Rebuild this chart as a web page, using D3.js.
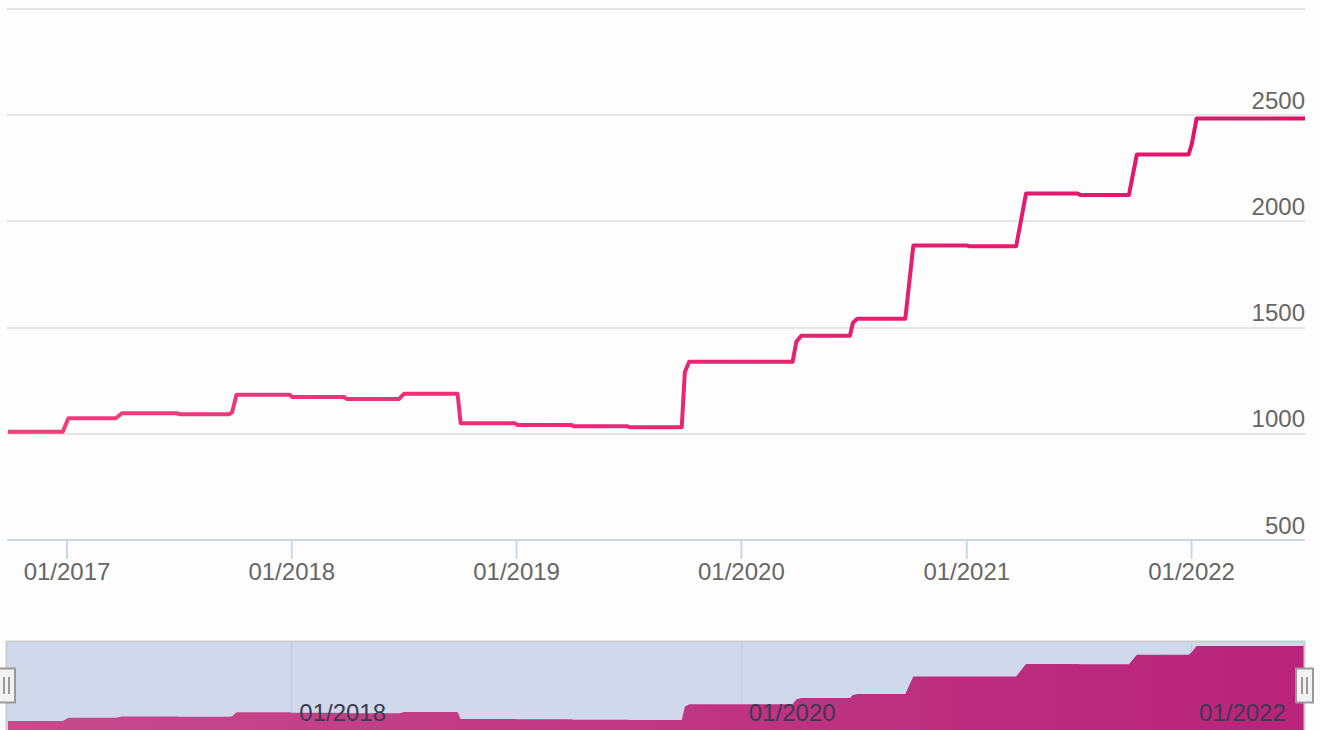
<!DOCTYPE html>
<html>
<head>
<meta charset="utf-8">
<title>Stepped line with navigator</title>
<script src="https://d3js.org/d3.v7.min.js"></script>
<style>
  body { margin: 0; background: #fdfdfd; }
  svg { display: block; font-family: "Liberation Sans", Arial, sans-serif; }
</style>
</head>
<body>
<div id="chart"></div>
<script>
// data (date, value)
var dates = ["2016-09-28","2016-12-26","2017-01-04","2017-03-22","2017-04-01","2017-06-28","2017-07-05",
  "2017-09-22","2017-09-27","2017-10-04","2017-12-29","2018-01-03","2018-03-28","2018-04-01","2018-06-25",
  "2018-07-03","2018-09-28","2018-10-03","2018-12-30","2019-01-03","2019-04-01","2019-04-04","2019-07-01",
  "2019-07-04","2019-09-27","2019-10-02","2019-10-09","2020-03-25","2020-03-31","2020-04-08","2020-06-26",
  "2020-07-01","2020-07-08","2020-09-24","2020-10-07","2021-01-03","2021-01-06","2021-03-23","2021-04-08",
  "2021-07-01","2021-07-05","2021-09-22","2021-10-05","2021-12-28","2022-01-02","2022-01-10","2022-07-05"];
var values = [1010,1010,1073,1073,1097,1097,1092,
  1092,1102,1184,1184,1173,1173,1164,1164,
  1188,1188,1050,1050,1042,1042,1036,1036,
  1031,1031,1290,1339,1339,1433,1462,1462,
  1523,1542,1542,1886,1886,1883,1883,2131,
  2131,2124,2124,2315,2315,2362,2485,2485];
var yTicks = [500, 1000, 1500, 2000, 2500, 3000];
var yLabels = [500, 1000, 1500, 2000, 2500];
var xTickDates = ["2017-01-01","2018-01-01","2019-01-01","2020-01-01","2021-01-01","2022-01-01"];
var navTickDates = ["2018-01-01","2020-01-01","2022-01-01"];

var W = 1320, H = 730;
var parse = d3.utcParse("%Y-%m-%d");
var fmt = d3.utcFormat("%m/%Y");
var points = dates.map(function (d, i) { return { date: parse(d), value: values[i] }; });

var svg = d3.select("#chart").append("svg").attr("width", W).attr("height", H);

// scales
var x = d3.scaleUtc()
  .domain([parse("2016-09-28"), parse("2022-07-05")])
  .range([8, 1305]);
var y = d3.scaleLinear().domain([500, 3000]).range([540, 9]);
var navY = d3.scaleLinear().domain(d3.extent(values)).range([721, 646]);

var defs = svg.append("defs");
var lg = defs.append("linearGradient").attr("id", "lineGrad")
  .attr("gradientUnits", "userSpaceOnUse").attr("x1", 8).attr("x2", 1305).attr("y1", 0).attr("y2", 0);
lg.append("stop").attr("offset", "0%").attr("stop-color", "#f03f7d");
lg.append("stop").attr("offset", "100%").attr("stop-color", "#e0106a");
var ag = defs.append("linearGradient").attr("id", "areaGrad")
  .attr("gradientUnits", "userSpaceOnUse").attr("x1", 8).attr("x2", 1305).attr("y1", 0).attr("y2", 0);
ag.append("stop").attr("offset", "0%").attr("stop-color", "#c64a8c");
ag.append("stop").attr("offset", "100%").attr("stop-color", "#b9237a");

// gridlines
svg.append("g").selectAll("line").data(yTicks.slice(1)).enter().append("line")
  .attr("x1", 7).attr("x2", 1305)
  .attr("y1", function (d) { return Math.round(y(d)); })
  .attr("y2", function (d) { return Math.round(y(d)); })
  .attr("stroke", "#e6e6e6").attr("stroke-width", 2);

// y labels (right side, above gridline)
svg.append("g").selectAll("text").data(yLabels).enter().append("text")
  .attr("x", 1305).attr("y", function (d) { return y(d) - 6.5; })
  .attr("text-anchor", "end").attr("font-size", 24).attr("fill", "#666")
  .text(function (d) { return d; });

// x axis
var xAxis = d3.axisBottom(x)
  .tickValues(xTickDates.map(parse))
  .tickFormat(fmt)
  .tickSize(19).tickPadding(4);
var gx = svg.append("g").attr("transform", "translate(0,540)").call(xAxis);
gx.select(".domain").remove();
gx.append("line").attr("x1", 7).attr("x2", 1305).attr("y1", 0).attr("y2", 0)
  .attr("stroke", "#ccd6eb").attr("stroke-width", 2);
gx.selectAll(".tick line").attr("stroke", "#ccd6eb").attr("stroke-width", 2);
gx.selectAll(".tick text").attr("font-size", 24).attr("fill", "#666")
  .attr("font-family", "Liberation Sans, Arial, sans-serif");

// main line
var line = d3.line()
  .x(function (d) { return x(d.date); })
  .y(function (d) { return y(d.value); });
svg.append("path").datum(points)
  .attr("d", line)
  .attr("fill", "none")
  .attr("stroke", "url(#lineGrad)")
  .attr("stroke-width", 4)
  .attr("stroke-linejoin", "round");

// navigator
var nav = svg.append("g");
nav.append("rect").attr("x", 7).attr("y", 642).attr("width", 1297).attr("height", 100)
  .attr("fill", "#cfd9eb");
nav.selectAll("line.navgrid").data(navTickDates.map(parse)).enter().append("line")
  .attr("class", "navgrid")
  .attr("x1", function (d) { return Math.round(x(d)) + 0.5; })
  .attr("x2", function (d) { return Math.round(x(d)) + 0.5; })
  .attr("y1", 642).attr("y2", 730)
  .attr("stroke", "#c3cde0").attr("stroke-width", 1.5);

var area = d3.area()
  .x(function (d) { return x(d.date); })
  .y0(740)
  .y1(function (d) { return navY(d.value); });
nav.append("path").datum(points)
  .attr("d", area)
  .attr("fill", "url(#areaGrad)");

nav.selectAll("text").data(navTickDates.map(parse)).enter().append("text")
  .attr("x", function (d) { return x(d) + 8; })
  .attr("y", 721)
  .attr("font-size", 24).attr("fill", "#3c3a50")
  .text(function (d) { return fmt(d); });

// navigator outline
nav.append("path")
  .attr("d", "M6.5,740 V641.5 H1304.5 V740")
  .attr("fill", "none").attr("stroke", "#cccccc").attr("stroke-width", 2);

// handles
[6.5, 1304.5].forEach(function (cx) {
  var h = nav.append("g").attr("transform", "translate(" + cx + ",0)");
  h.append("rect").attr("x", -8.5).attr("y", 668.5).attr("width", 17).attr("height", 34)
    .attr("fill", "#f2f2f2").attr("stroke", "#999").attr("stroke-width", 2);
  h.append("line").attr("x1", -2.5).attr("x2", -2.5).attr("y1", 677).attr("y2", 694)
    .attr("stroke", "#999").attr("stroke-width", 2);
  h.append("line").attr("x1", 2.5).attr("x2", 2.5).attr("y1", 677).attr("y2", 694)
    .attr("stroke", "#999").attr("stroke-width", 2);
});
</script>
</body>
</html>
